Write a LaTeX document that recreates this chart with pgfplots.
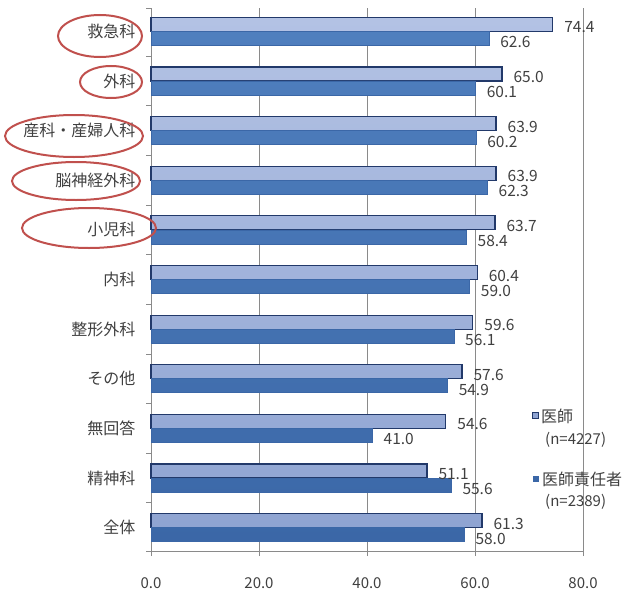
\documentclass[border=0pt]{standalone}
\usepackage{fontspec}
\setmainfont{Noto Sans CJK JP}
\usepackage{pgfplots}
\pgfplotsset{compat=1.18}
\pgfplotsset{/pgf/number format/assume math mode=true}
\definecolor{lighttop}{HTML}{B3C2E4}
\definecolor{lightbot}{HTML}{8FA4D2}
\definecolor{darktop}{HTML}{4F7FBE}
\definecolor{darkbot}{HTML}{3B67A7}
\definecolor{darkline}{HTML}{22396A}
\definecolor{gridgray}{HTML}{8A8A8A}
\definecolor{labelgray}{HTML}{404040}
\definecolor{markred}{HTML}{C0504D}
\begin{document}
\begin{tikzpicture}
\path[use as bounding box] (0,0) rectangle (628pt,-594pt);
\begin{axis}[
  at={(151pt,-551pt)}, anchor=south west, scale only axis,
  width=432pt, height=543pt,
  xmin=0, xmax=80, ymin=-0.47, ymax=10.47,
  axis lines*=left,
  axis line style={gridgray, line width=0.8pt},
  xtick={0,20,...,80},
  xticklabel={\pgfmathprintnumber[fixed,fixed zerofill,precision=1]{\tick}},
  xmajorgrids, major grid style={gridgray, line width=0.8pt},
  ytick={0,...,10},
  yticklabels={全体,精神科,無回答,その他,整形外科,内科,小児科,脳神経外科,産科・産婦人科,外科,救急科},
  ytick style={draw=none},
  extra y ticks={-0.47,0.5,1.5,2.5,3.5,4.5,5.5,6.5,7.5,8.5,9.5,10.47},
  extra y tick labels={},
  extra y tick style={ytick style={draw=gridgray, line width=0.8pt}},
  tick align=outside, major tick length=5pt,
  xtick style={draw=gridgray, line width=0.8pt},
  tick label style={text=labelgray},
  xticklabel style={font=\fontsize{15}{18}\selectfont, yshift=-18pt},
  yticklabel style={font=\fontsize{16}{19}\selectfont, xshift=-7pt},
  xbar, bar width=14pt,
  point meta=x,
  nodes near coords={\pgfmathprintnumber[fixed,fixed zerofill,precision=1]{\pgfplotspointmeta}},
  every node near coord/.append style={font=\fontsize{15.5}{18}\selectfont, text=labelgray, inner sep=0pt, anchor=west},
  clip=false,
]
% 医師 (n=4227)
\addplot[bar shift=7pt, top color=lighttop, bottom color=lightbot, draw=darkline, line width=1.2pt,
  every node near coord/.append style={xshift=11pt, yshift=-3pt}] coordinates {
  (61.3,0) (51.1,1) (54.6,2) (57.6,3) (59.6,4) (60.4,5) (63.7,6) (63.9,7) (63.9,8) (65.0,9) (74.4,10)
};
% 医師責任者 (n=2389)
\addplot[bar shift=-7pt, top color=darktop, bottom color=darkbot, draw=darkbot, line width=0.6pt,
  every node near coord/.append style={xshift=11pt, yshift=-4pt}] coordinates {
  (58.0,0) (55.6,1) (41.0,2) (54.9,3) (56.1,4) (59.0,5) (58.4,6) (62.3,7) (60.2,8) (60.1,9) (62.6,10)
};
\end{axis}
% red ellipses
\begin{scope}[markred, line width=2pt]
\draw (100pt,-36pt) ellipse [x radius=42pt, y radius=21pt];
\draw (111pt,-82pt) ellipse [x radius=31pt, y radius=16pt];
\draw (74pt,-136pt) ellipse [x radius=69pt, y radius=21pt];
\draw (76pt,-181pt) ellipse [x radius=64pt, y radius=19pt];
\draw (89pt,-228pt) ellipse [x radius=67pt, y radius=20pt];
\end{scope}
% legend
\fill[lightbot, draw=darkline, line width=0.8pt] (532pt,-412pt) rectangle (538pt,-418pt);
\node[anchor=west, inner sep=0pt, text=labelgray, font=\fontsize{16}{19}\selectfont] at (541pt,-416pt) {医師};
\node[anchor=west, inner sep=0pt, text=labelgray, font=\fontsize{15}{18}\selectfont] at (545pt,-440pt) {(n=4227)};
\fill[darkbot] (533pt,-476pt) rectangle (539pt,-482pt);
\node[anchor=west, inner sep=0pt, text=labelgray, font=\fontsize{16}{19}\selectfont] at (542pt,-479pt) {医師責任者};
\node[anchor=west, inner sep=0pt, text=labelgray, font=\fontsize{15}{18}\selectfont] at (545pt,-502pt) {(n=2389)};
\end{tikzpicture}
\end{document}
